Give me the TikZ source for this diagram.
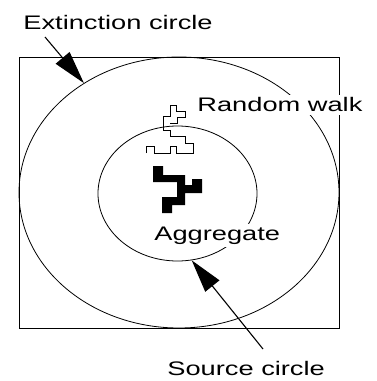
\documentclass[tikz,border=0pt]{standalone}
\usepackage{fontspec}
\setmainfont[FakeStretch=1.39]{Liberation Sans}
\usetikzlibrary{arrows.meta,shapes.geometric}

\begin{document}
\begin{tikzpicture}[x=1pt, y=-1pt, line width=0.8pt,
  tag/.style={anchor=base west, fill=white, inner xsep=1pt, inner ysep=3pt,
    font=\fontsize{19.6pt}{22pt}\selectfont},
  pointer/.style={line width=1.1pt, -{Triangle[length=33pt, width=18pt]}},
  ring/.style={draw, ellipse, inner sep=0pt}]
  \useasboundingbox (0,0) rectangle (376,381);
  \draw (19,57) rectangle (339,328);
  \node[ring, minimum width=320pt, minimum height=271pt] (outer) at (179,192.5) {};
  \node[ring, minimum width=159pt, minimum height=135pt] (inner) at (177.5,193.5) {};
  % the walker
  \draw[line width=0.7pt] (146,153) -- (146,146) -- (154,146) -- (154,153)
    -- (170,153) -- (170,146) -- (176,146) -- (176,153) -- (193,153)
    -- (193,143) -- (185,143) -- (185,136) -- (170,136) -- (170,130)
    -- (163,130) -- (163,116) -- (170,116) -- (170,105) -- (176,105)
    -- (176,111) -- (185,111) -- (185,117) -- (177,117) -- (177,123)
    -- (170,123);
  % the cluster
  \fill (153,166) -- (163,166) -- (163,175) -- (185,175) -- (185,185)
    -- (192,185) -- (192,179) -- (202,179) -- (202,193) -- (185,193)
    -- (185,205) -- (172,205) -- (172,213) -- (162,213) -- (162,197)
    -- (177,197) -- (177,182) -- (153,182) -- cycle;
  \node[tag] (ext) at (22,29) {Extinction circle};
  \node[tag] (walk) at (196,111.7) {Random walk};
  \node[tag] (agg) at (153,240) {Aggregate};
  \node[tag] (src) at (166,375) {Source circle};
  \coordinate (exttail) at (45,37);
  \coordinate (srctail) at (263,349);
  \draw[pointer] (exttail) -- (outer.131.4);
  \draw[pointer] (srctail) -- (inner.282.3);
\end{tikzpicture}
\end{document}
